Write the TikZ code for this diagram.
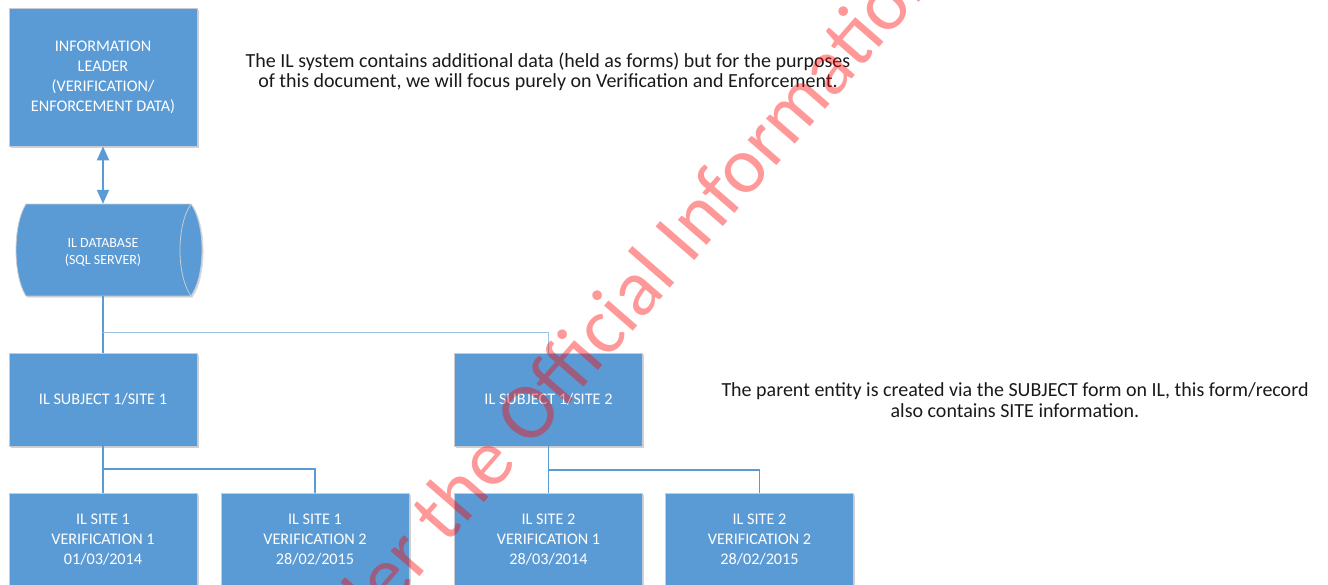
\documentclass[tikz,border=0pt]{standalone}
\usepackage{fontspec}
\setmainfont{Carlito}
\usetikzlibrary{arrows.meta,shadows}

\definecolor{ilblue}{HTML}{5B9BD5}
\definecolor{illight}{HTML}{9DC3E6}
\definecolor{iledge}{HTML}{C8CCD2}
\definecolor{iltext}{HTML}{1A1A1A}

\begin{document}
\begin{tikzpicture}[x=1pt,y=-1pt,
  box/.style={rectangle, fill=ilblue, draw=iledge, line width=0.8pt,
    minimum width=188pt, minimum height=93pt, inner sep=0pt,
    text=white, align=center, font=\fontsize{16.2}{20}\selectfont,
    drop shadow={shadow xshift=1.5pt, shadow yshift=-1.5pt, opacity=0.18, fill=black}},
  link/.style={draw=ilblue, line width=1.5pt},
  thinlink/.style={draw=illight, line width=1pt},
  note/.style={align=center, text=iltext, inner sep=0pt, font=\fontsize{20}{20.5}\selectfont}]

\useasboundingbox (0,0) rectangle (1328,584);
\fill[white] (0,0) rectangle (1328,584);

\begin{scope}
\clip (0,0) rectangle (1328,584);

% top level: the application box
\node[box, minimum height=138pt] (il) at (103,77)
  {INFORMATION\\LEADER\\(VERIFICATION/\\ENFORCEMENT DATA)};

% database drum
\node[inner sep=0pt, minimum width=186pt, minimum height=92pt] (db) at (103,250) {};
\fill[black, opacity=0.15, shift={(1.5,1.5)}]
  (26,204) -- (191,204) .. controls (205.7,225) and (205.7,275) .. (191,296)
  -- (26,296) .. controls (12.7,275) and (12.7,225) .. (26,204) -- cycle;
\filldraw[fill=ilblue, draw=iledge, line width=0.8pt]
  (26,204) -- (191,204) .. controls (205.7,225) and (205.7,275) .. (191,296)
  -- (26,296) .. controls (12.7,275) and (12.7,225) .. (26,204) -- cycle;
\draw[draw=iledge, line width=0.8pt]
  (191,204) .. controls (176.3,225) and (176.3,275) .. (191,296);
\node[text=white, align=center, font=\fontsize{14}{17}\selectfont] (dbtext) at (103,252.5)
  {IL DATABASE\\(SQL SERVER)};

% subject records
\node[box] (sub1) at (103,399.5) {IL SUBJECT 1/SITE 1};
\node[box] (sub2) at (548.5,399.5) {IL SUBJECT 1/SITE 2};

% verification records
\node[box] (v11) at (103,539.5) {IL SITE 1\\VERIFICATION 1\\01/03/2014};
\node[box] (v12) at (315,539.5) {IL SITE 1\\VERIFICATION 2\\28/02/2015};
\node[box] (v21) at (548.5,539.5) {IL SITE 2\\VERIFICATION 1\\28/03/2014};
\node[box] (v22) at (759.5,539.5) {IL SITE 2\\VERIFICATION 2\\28/02/2015};

% connectors
\draw[draw=ilblue, line width=2pt,
  {Triangle[width=12pt,length=14pt]}-{Triangle[width=12pt,length=14pt]}]
  (il.south) -- (db.north);
\coordinate (j0) at (103,332);
\draw[link] (db.south) -- (sub1.north);
\draw[thinlink] (j0) -| (sub2.north);

\coordinate (j1) at (103,469);
\draw[link] (sub1.south) -- (v11.north);
\draw[link] (j1) -| (v12.north);

\coordinate (j2) at (548.5,470);
\draw[link] (sub2.south) -- (v21.north);
\draw[link] (j2) -| (v22.north);

% notes
\node[note] (n1) at (548,72)
  {The IL system contains additional data (held as forms) but for the purposes\\
   of this document, we will focus purely on Verification and Enforcement.};
\node[note] (n2) at (1015,400)
  {The parent entity is created via the SUBJECT form on IL, this form/record\\
   also contains SITE information.};

% release stamp across the page
\node[text=red, opacity=0.4, rotate=49, anchor=base west, inner sep=0pt,
  font=\fontsize{80}{80}\selectfont] (stamp) at (529.9,449.8)
  {\llap{under the }Official Information};
\end{scope}
\end{tikzpicture}
\end{document}
